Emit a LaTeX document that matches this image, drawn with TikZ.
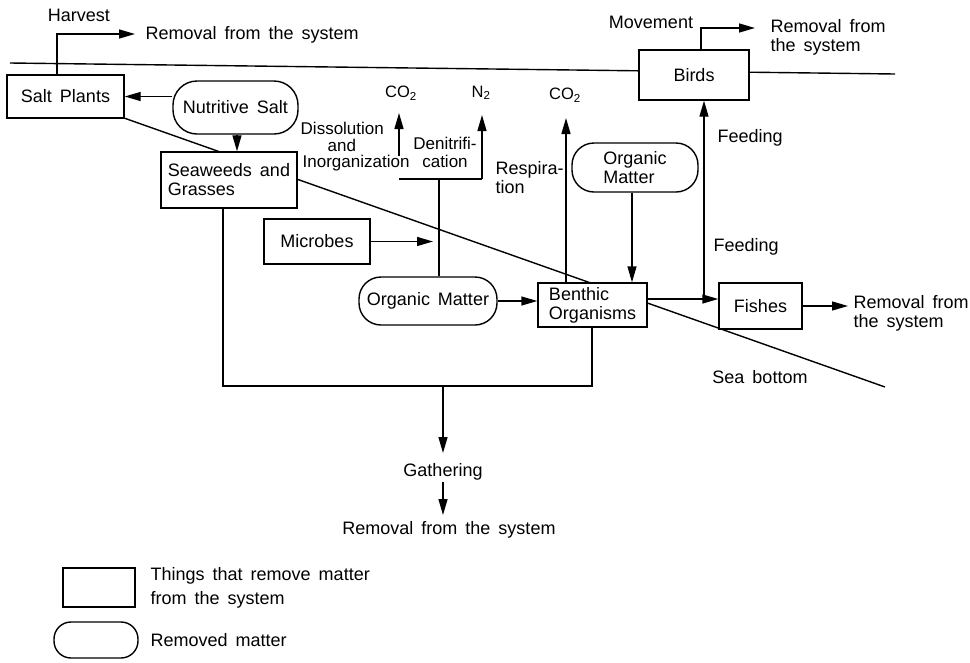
\documentclass[tikz,border=0pt]{standalone}
\usepackage{fontspec}
\setmainfont[WordSpace=1.6]{Liberation Sans}
\usetikzlibrary{arrows.meta}
\begin{document}
\begin{tikzpicture}[x=1pt,y=-1pt,line width=1.4pt,
  font=\fontsize{18}{19}\selectfont,
  box/.style={draw,fill=white,inner sep=0pt,align=left},
  pill/.style={draw,fill=white,inner sep=0pt,align=left,rounded corners=#1},
  lbl/.style={inner sep=0pt,align=left},
  sm/.style={inner sep=0pt,font=\fontsize{16.5}{18}\selectfont},
  arr/.style={-{Triangle[length=16pt,width=9pt]}}]
\useasboundingbox (0,0) rectangle (970,662);

% surface and sea bottom lines
\coordinate (sl) at (10,63);
\coordinate (sr) at (895,74);
\draw (sl) -- (sr);
\coordinate (bs) at (124,118);
\coordinate (be) at (885,387);
\draw (bs) -- (be);

% boxes (things that remove matter)
\node[box,minimum width=117pt,minimum height=43pt] (salt) at (65.5,96.5) {Salt Plants};
\node[box,minimum width=136pt,minimum height=56pt] (sea) at (229,180) {Seaweeds and\\Grasses};
\node[box,minimum width=106pt,minimum height=45pt] (mic) at (317,241.5) {Microbes};
\node[box,minimum width=109pt,minimum height=44pt] (ben) at (592.5,305) {Benthic\\Organisms};
\node[box,minimum width=110pt,minimum height=50pt] (birds) at (694,75) {Birds};
\node[box,minimum width=83pt,minimum height=46pt] (fish) at (760.5,306) {Fishes};

% pills (removed matter)
\node[pill=24pt,minimum width=125pt,minimum height=53pt] (nut) at (235.5,107.5) {Nutritive Salt};
\node[pill=22pt,minimum width=138pt,minimum height=48pt] (om1) at (428,301) {Organic Matter};
\node[pill=22pt,minimum width=126pt,minimum height=49pt] (om2) at (635,167.5) {Organic\\Matter};

% labels
\node[lbl] (harv) at (79,15) {Harvest};
\node[lbl,anchor=west] (rem1) at (145,35) {Removal from the system};
\node[lbl] (mov) at (651,22) {Movement};
\node[lbl,anchor=west] (rem2) at (770,37.5) {Removal from\\the system};
\node[sm] (co2a) at (401,93) {CO\textsubscript{2}};
\node[sm] (n2) at (481,93) {N\textsubscript{2}};
\node[sm] (co2b) at (565,95) {CO\textsubscript{2}};
\node[lbl,anchor=west,font=\fontsize{17}{16.5}\selectfont] (dis) at (300,147) {Dissolution\\\hspace*{27pt}and\\\hspace*{2pt}Inorganization};
\node[lbl,align=center,font=\fontsize{17}{18}\selectfont] (den) at (445,152) {Denitrifi-\\cation};
\node[lbl,anchor=west] (resp) at (495,178) {Respira-\\tion};
\node[lbl,anchor=west] (feed1) at (717,138) {Feeding};
\node[lbl,anchor=west] (feed2) at (713,247) {Feeding};
\node[lbl,anchor=west] (rem3) at (853,313.5) {Removal from\\the system};
\node[lbl] (seab) at (760,377) {Sea bottom};
\node[lbl] (gath) at (443,472) {Gathering};
\node[lbl] (rem4) at (449,530) {Removal from the system};

% connectors
\coordinate (hvtip) at (135,34);
\draw[arr] ([xshift=-8.5pt]salt.north) |- (hvtip);
\draw[arr] (salt.east -| nut.west) -- (salt.east);
\draw[arr] ([xshift=1.5pt]nut.south) -- ([xshift=1.5pt]nut.south |- sea.north);

\coordinate (bl) at (399,179);
\coordinate (br) at (482,179);
\coordinate (dnb) at (439,179);
\coordinate (dst) at (399,156);
\coordinate (co2atip) at (399,113);
\coordinate (n2tip) at (482,115);
\draw (bl) -- (br);
\draw[arr] (dst) -- (co2atip);
\draw[arr] (br) -- (n2tip);
\draw ([xshift=11pt]om1.north) -- (dnb);

\coordinate (mt) at (433,242);
\draw[arr] (mic.east) -- (mic.east -| mt);
\draw[arr] (om1.east) -- (om1.east -| ben.west);

\coordinate (co2btip) at (566,118);
\draw[arr] (co2btip |- ben.north) -- (co2btip);
\draw[arr] ([xshift=-3pt]om2.south) -- ([xshift=-3pt]om2.south |- ben.north);

\coordinate (mvtip) at (755,28);
\draw[arr] ([xshift=7pt]birds.north) |- (mvtip);

\draw[arr] ([yshift=6pt]ben.east) -- ([yshift=6pt]ben.east -| fish.west);
\coordinate (fj) at (704,299);
\draw[arr] (fj) -- (fj |- birds.south);
\coordinate (ftip) at (848,306);
\draw[arr] (fish.east) -- (ftip);

\coordinate (cr) at (592,386);
\draw ([xshift=-6pt]sea.south) |- (cr) -- (cr |- ben.south);
\coordinate (gs) at (443,386);
\coordinate (g1tip) at (443,453);
\draw[arr] (gs) -- (g1tip);
\coordinate (g2s) at (443,482);
\coordinate (g2tip) at (443,515);
\draw[arr] (g2s) -- (g2tip);

% legend
\node[box,minimum width=72pt,minimum height=39pt] (lgbox) at (99,587.5) {};
\node[lbl,anchor=west,font=\fontsize{18}{24}\selectfont] (lgt1) at (150,588) {Things that remove matter\\from the system};
\node[pill=17pt,minimum width=84pt,minimum height=36pt] (lgpill) at (96,640) {};
\node[lbl,anchor=west] (lgt2) at (150,640) {Removed matter};
\end{tikzpicture}
\end{document}
